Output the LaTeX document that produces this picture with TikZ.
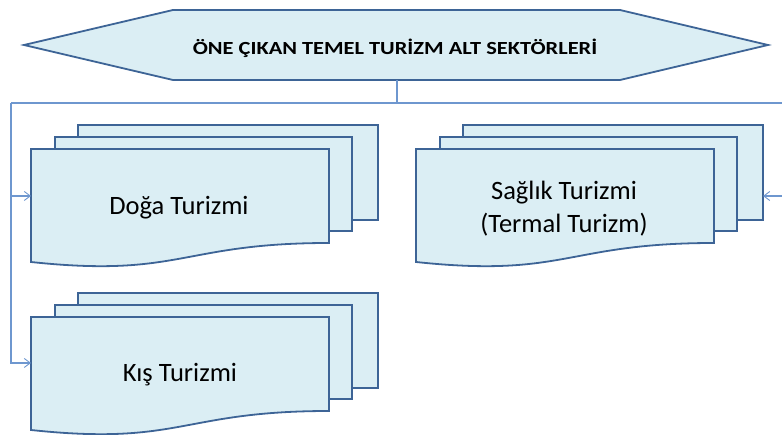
\documentclass[tikz,border=0pt]{standalone}
\usepackage{fontspec}
\setmainfont{Carlito}
\usetikzlibrary{arrows.meta}
\definecolor{docfill}{HTML}{DBEEF4}
\definecolor{docline}{HTML}{3D6496}
\definecolor{conn}{HTML}{6E97CF}
\tikzset{
  docshape/.style={draw=docline, fill=docfill, line width=1.8pt, line join=miter},
  connline/.style={draw=conn, line width=1.1pt},
  connarrow/.style={connline, -{Straight Barb[length=6pt,width=9pt,line width=0.9pt]}},
  doctext/.style={font=\fontsize{26.5}{33}\selectfont, align=center, text=black, inner sep=0pt, anchor=base},
  titletext/.style={font=\fontsize{18.5}{22}\selectfont\bfseries, text=black, inner sep=0pt, anchor=base}
}
% multidocument: #1 = x of front left, #2 = y of front top
\newcommand{\multidoc}[2]{%
  \begin{scope}[shift={(#1,#2)}]
    \path[docshape] (47,-24) rectangle (347,71);
    \path[docshape] (24,-12) rectangle (321,82);
    \path[docshape] (0,0) -- (298,0) -- (298,94)
      .. controls (150,94) and (150,129) .. (0,113) -- cycle;
  \end{scope}}
\begin{document}
\begin{tikzpicture}[x=1pt,y=-1pt]
\useasboundingbox (0,0) rectangle (782,435);
\clip (0,0) rectangle (782,435);
% title banner
\path[docshape] (24,45) -- (173,10) -- (620,10) -- (768,45) -- (620,80) -- (173,80) -- cycle;
\node[titletext] (title) at (395,55) {\scalebox{1.21}[1]{ÖNE ÇIKAN TEMEL TURİZM ALT SEKTÖRLERİ}};
\coordinate (hexb) at (397,80);
% documents
\multidoc{31}{149}
\multidoc{416}{149}
\multidoc{31}{317}
\node[doctext] (doga) at (179,215) {Doğa Turizmi};
\node[doctext] (saglik) at (564,232.5) {Sağlık Turizmi\\(Termal Turizm)};
\node[doctext] (kis) at (180,382) {Kış Turizmi};
\coordinate (dogaw) at (31,196);
\coordinate (kisw) at (31,363);
\coordinate (saglike) at (763,196);
\coordinate (busL) at (11,103);
\coordinate (busR) at (790,103);
% connectors
\draw[connline] (hexb) -- (397,103);
\draw[connline] (busL) -- (busR);
\draw[connarrow] (busL) |- (dogaw);
\draw[connarrow] (busL) |- (kisw);
\draw[connarrow] (busR) |- (saglike);
\end{tikzpicture}
\end{document}
